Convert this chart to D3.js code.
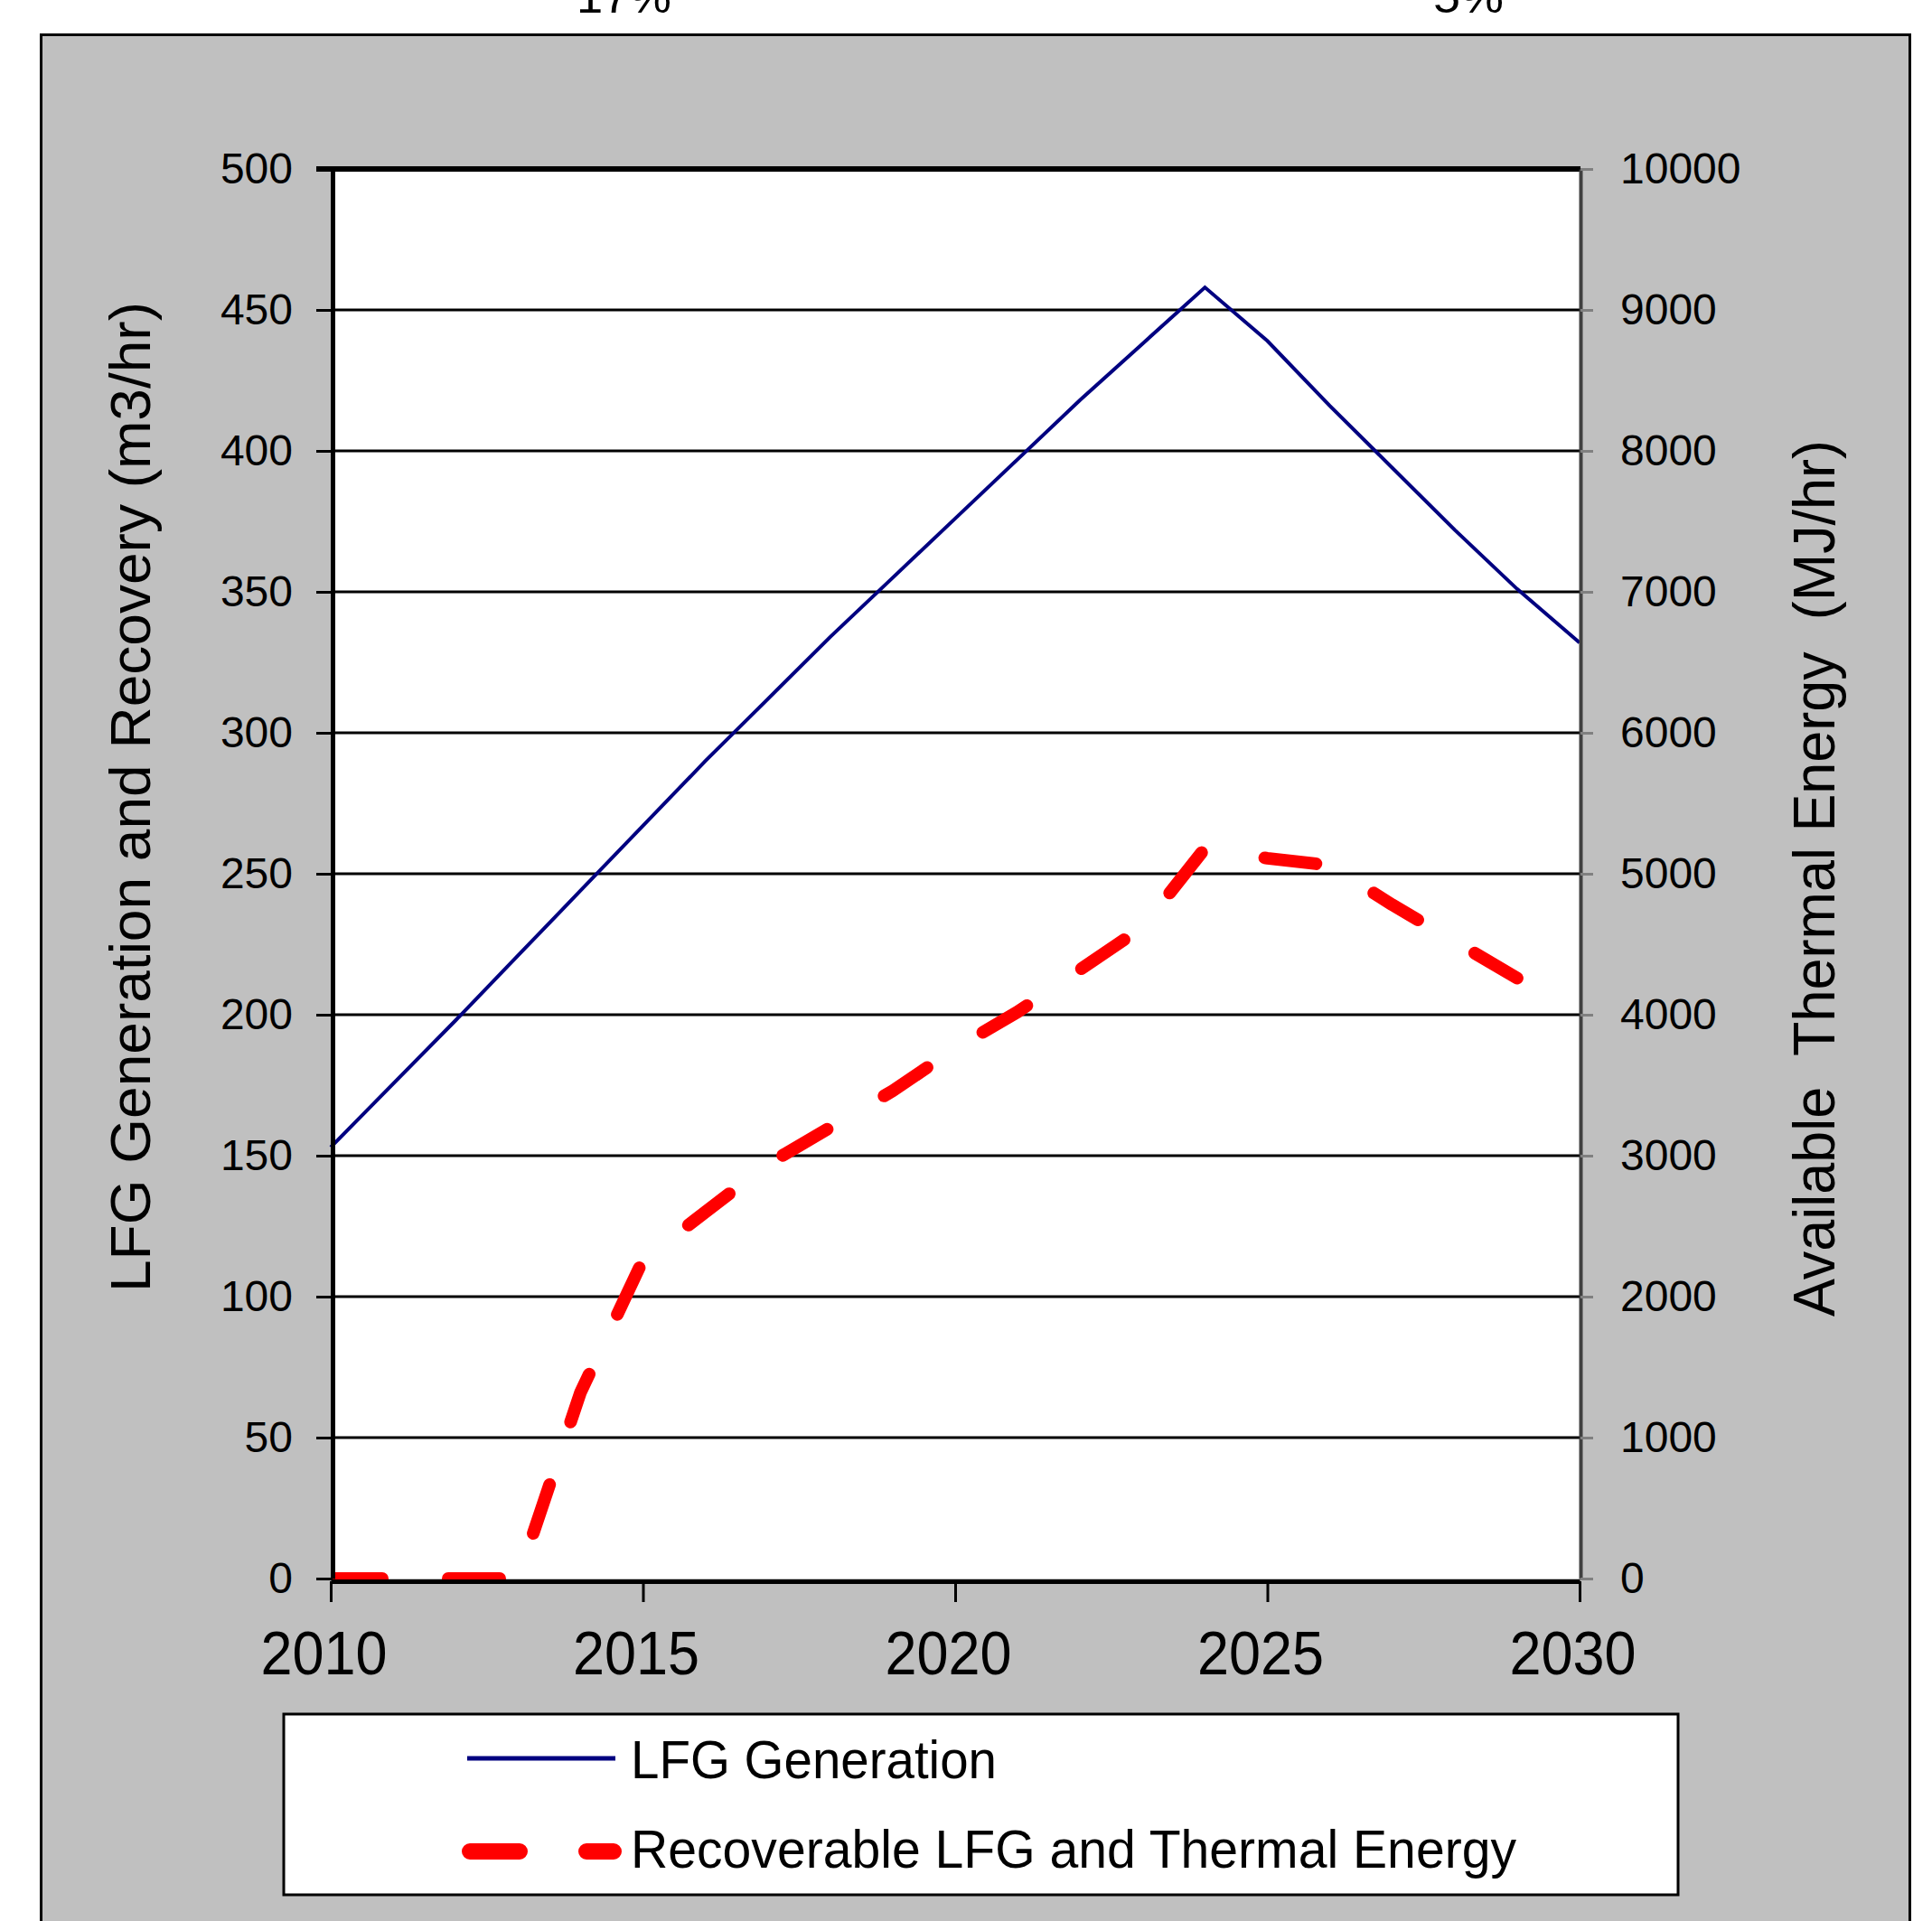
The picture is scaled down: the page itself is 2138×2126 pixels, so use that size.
<!DOCTYPE html>
<html><head><meta charset="utf-8">
<script src="https://cdn.jsdelivr.net/npm/d3@7"></script>
<style>
html,body{margin:0;padding:0;background:#fff;}
svg{display:block;}
text{font-family:"Liberation Sans",Arial,sans-serif;fill:#000;}
</style></head><body>
<svg id="chart" width="2138" height="2126"></svg>
<script>
// ---- data ----
const years = [2010,2011,2012,2013,2014,2015,2016,2017,2018,2019,2020,2021,2022,2023,2024,2025,2026,2027,2028,2029,2030];
const lfgGeneration = [153,175.5,198,221,244,267,290,312,334,355,376,397,418,438,458,439,416,394,372,351,332];
const recoverableLFG = [0,0,0,0,66,113,130,147,160,173,188,201,216,231,259,255.5,253,239,226,213];
const leftTicks = [0,50,100,150,200,250,300,350,400,450,500];
const rightTicks = [0,1000,2000,3000,4000,5000,6000,7000,8000,9000,10000];
const xTicks = [2010,2015,2020,2025,2030];
const topFragments = ["17%","5%"];
const seriesNames = ["LFG Generation","Recoverable LFG and Thermal Energy"];
const leftTitle = "LFG Generation and Recovery (m3/hr)";
const rightTitle = "Available  Thermal Energy  (MJ/hr)";

// ---- layout ----
const svg = d3.select("#chart");
const plot = {left:368, right:1748, top:187, bottom:1747};
const x = d3.scaleLinear().domain([2010,2030]).range([366, 1748]);
const y = d3.scaleLinear().domain([0,500]).range([plot.bottom, plot.top]);
const y2 = d3.scaleLinear().domain([0,10000]).range([plot.bottom, plot.top]);

// cut-off labels at very top
const fragPos = [{x:638,len:105},{x:1586,len:78}];
svg.selectAll("text.frag").data(topFragments).join("text")
  .attr("class","frag")
  .attr("x",(d,i)=>fragPos[i].x).attr("y",14)
  .attr("textLength",(d,i)=>fragPos[i].len).attr("lengthAdjust","spacingAndGlyphs")
  .style("font-size","50px").text(d=>d);

// grey panel
svg.append("rect").attr("x",45.5).attr("y",38.5).attr("width",2068).attr("height",2200)
  .attr("fill","#c0c0c0").attr("stroke","#000").attr("stroke-width",3);

// plot background
svg.append("rect").attr("x",366).attr("y",plot.top).attr("width",1748-366).attr("height",plot.bottom-plot.top)
  .attr("fill","#fff");

// gridlines
svg.append("g").selectAll("line").data(leftTicks.filter(d=>d>0 && d<500)).join("line")
  .attr("x1",366).attr("x2",1748).attr("y1",d=>y(d)).attr("y2",d=>y(d))
  .attr("stroke","#000").attr("stroke-width",3);

// clip
svg.append("defs").append("clipPath").attr("id","clip").append("rect")
  .attr("x",366).attr("y",plot.top).attr("width",1748-366).attr("height",1748-plot.top);

const line = d3.line().x((d,i)=>x(years[i])).y(d=>y(d));

svg.append("path").datum(lfgGeneration).attr("d",line)
  .attr("fill","none").attr("stroke","#000080").attr("stroke-width",4).attr("stroke-linejoin","miter");

svg.append("path").datum(recoverableLFG).attr("d",line).attr("clip-path","url(#clip)")
  .attr("fill","none").attr("stroke","#ff0000").attr("stroke-width",14)
  .attr("stroke-linecap","round").attr("stroke-linejoin","round").attr("stroke-dasharray","57,73");

// top border
svg.append("line").attr("x1",350).attr("x2",1749).attr("y1",y(500)).attr("y2",y(500))
  .attr("stroke","#000").attr("stroke-width",6);

// left axis
const gL = svg.append("g").attr("transform","translate(368,0)")
  .call(d3.axisLeft(y).tickValues(leftTicks).tickFormat(d3.format("d")).tickSize(18).tickPadding(26).tickSizeOuter(0));
gL.select(".domain").attr("stroke","#000").attr("stroke-width",5);
gL.selectAll(".tick line").attr("stroke","#000").attr("stroke-width",3);
gL.selectAll(".tick text").style("font-size","48px").attr("fill","#000").style("font-family",'"Liberation Sans",Arial,sans-serif');

// right axis
const gR = svg.append("g").attr("transform","translate(1749,0)")
  .call(d3.axisRight(y2).tickValues(rightTicks).tickFormat(d3.format("d")).tickSize(14).tickPadding(30).tickSizeOuter(0));
gR.select(".domain").attr("stroke","#404040").attr("stroke-width",4);
gR.selectAll(".tick line").attr("stroke","#808080").attr("stroke-width",3);
gR.selectAll(".tick text").style("font-size","48px").attr("fill","#000").style("font-family",'"Liberation Sans",Arial,sans-serif');

// bottom axis
const gB = svg.append("g").attr("transform","translate(0,1750)")
  .call(d3.axisBottom(x).tickValues(xTicks).tickFormat(d3.format("d")).tickSize(23).tickPadding(32).tickSizeOuter(0));
gB.select(".domain").attr("stroke","#000").attr("stroke-width",5);
gB.selectAll(".tick line").attr("stroke","#000").attr("stroke-width",3);
gB.selectAll(".tick text").style("font-size","68px").attr("fill","#000")
  .style("font-family",'"Liberation Sans",Arial,sans-serif')
  .attr("x",-8).attr("textLength",140).attr("lengthAdjust","spacingAndGlyphs");

// axis titles
svg.append("text").attr("transform","translate(166,882) rotate(-90)")
  .attr("text-anchor","middle").style("font-size","63px")
  .attr("textLength",1096).attr("lengthAdjust","spacingAndGlyphs").text(leftTitle);
svg.append("text").attr("transform","translate(2030,972) rotate(-90)")
  .attr("text-anchor","middle").style("font-size","64px").style("white-space","pre")
  .attr("textLength",970).attr("lengthAdjust","spacingAndGlyphs").text(rightTitle);

// legend
const lg = svg.append("g");
lg.append("rect").attr("x",314).attr("y",1897).attr("width",1543).attr("height",200)
  .attr("fill","#fff").attr("stroke","#000").attr("stroke-width",3);
lg.append("line").attr("x1",517).attr("x2",681).attr("y1",1946).attr("y2",1946)
  .attr("stroke","#000080").attr("stroke-width",5);
lg.append("line").attr("x1",520).attr("x2",679).attr("y1",2049).attr("y2",2049)
  .attr("stroke","#ff0000").attr("stroke-width",18).attr("stroke-linecap","round").attr("stroke-dasharray","55,74");
const legY = [1968, 2067], legLen = [405, 980];
lg.selectAll("text").data(seriesNames).join("text")
  .attr("x",698).attr("y",(d,i)=>legY[i]).style("font-size","60px")
  .attr("textLength",(d,i)=>legLen[i]).attr("lengthAdjust","spacingAndGlyphs").text(d=>d);
</script>
</body></html>
